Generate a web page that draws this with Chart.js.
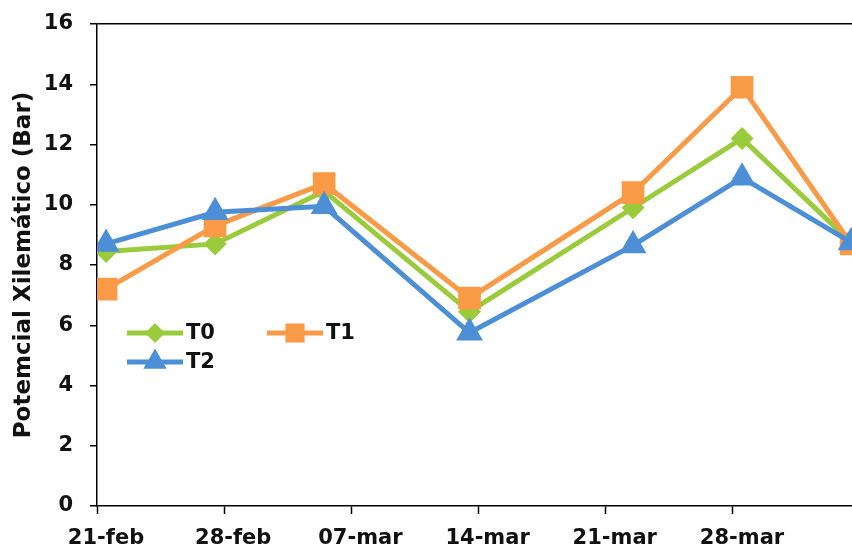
<!DOCTYPE html>
<html lang="es">

<head>
    <meta charset="UTF-8">
    <title>Potencial xilemático</title>
    <script src="https://cdn.jsdelivr.net/npm/chart.js@4"></script>
    <style>
        body {
            margin: 0;
            background-color: #ffffff;
        }

        .chart-box {
            width: 852px;
            height: 550px;
            position: relative;
        }
    </style>
</head>

<body>
    <div class="chart-box">
        <canvas id="potencialChart"></canvas>
    </div>

    <script>
        // dias despues del 21-feb en que se midio
        const dias = [0, 6, 12, 20, 29, 35, 41];
        const t0 = [8.45, 8.7, 10.45, 6.45, 9.9, 12.2, 8.75];
        const t1 = [7.2, 9.3, 10.7, 6.9, 10.4, 13.9, 8.7];
        const t2 = [8.7, 9.75, 9.95, 5.75, 8.65, 10.9, 8.75];

        // marcas del eje x cada 7 dias
        const marcasDias = [0, 7, 14, 21, 28, 35];
        const etiquetasX = ['21-feb', '28-feb', '07-mar', '14-mar', '21-mar', '28-mar'];
        const ticksY = [0, 2, 4, 6, 8, 10, 12, 14, 16];

        const fuente = 'DejaVu Sans';
        const diaMax = 41.55;

        // cada punto va al centro de su dia
        function serie(valores) {
            return valores.map((v, i) => ({ x: dias[i] + 0.5, y: v }));
        }

        // leyenda dentro del area del grafico
        const leyendaPlugin = {
            id: 'leyenda',
            afterDatasetsDraw(chart) {
                const ctx = chart.ctx;
                const items = [
                    { ds: 0, x: 127, y: 333 },
                    { ds: 1, x: 267, y: 333 },
                    { ds: 2, x: 127, y: 362 }
                ];
                ctx.save();
                items.forEach(it => {
                    const ds = chart.data.datasets[it.ds];
                    ctx.strokeStyle = ds.borderColor;
                    ctx.lineWidth = ds.borderWidth;
                    ctx.beginPath();
                    ctx.moveTo(it.x, it.y);
                    ctx.lineTo(it.x + 56, it.y);
                    ctx.stroke();
                    ctx.fillStyle = ds.pointBackgroundColor;
                    ctx.strokeStyle = ds.pointBorderColor;
                    Chart.helpers.drawPoint(ctx, {
                        pointStyle: ds.pointStyle,
                        radius: ds.pointRadius * 0.8,
                        rotation: 0,
                        borderWidth: 1
                    }, it.x + 28, it.y);
                    ctx.fillStyle = '#111111';
                    ctx.font = 'bold 21px "' + fuente + '"';
                    ctx.textBaseline = 'middle';
                    ctx.textAlign = 'left';
                    ctx.fillText(ds.label, it.x + 59, it.y + 1);
                });
                ctx.restore();
            }
        };

        const ctx = document.getElementById('potencialChart').getContext('2d');
        new Chart(ctx, {
            type: 'line',
            data: {
                datasets: [{
                    label: 'T0',
                    data: serie(t0),
                    borderColor: '#9acb3a',
                    backgroundColor: '#9acb3a',
                    pointBackgroundColor: '#9acb3a',
                    pointBorderColor: '#9acb3a',
                    pointStyle: 'rectRot',
                    pointRadius: 8,
                    borderWidth: 5,
                    order: 2
                }, {
                    label: 'T1',
                    data: serie(t1),
                    borderColor: '#f99a47',
                    backgroundColor: '#f99a47',
                    pointBackgroundColor: '#f99a47',
                    pointBorderColor: '#f99a47',
                    pointStyle: 'rect',
                    pointRadius: 12.5,
                    borderWidth: 5,
                    order: 1
                }, {
                    label: 'T2',
                    data: serie(t2),
                    borderColor: '#4d8fd6',
                    backgroundColor: '#4d8fd6',
                    pointBackgroundColor: '#4d8fd6',
                    pointBorderColor: '#4d8fd6',
                    pointStyle: 'triangle',
                    pointRadius: 10.5,
                    borderWidth: 5,
                    order: 0
                }]
            },
            options: {
                responsive: true,
                maintainAspectRatio: false,
                animation: false,
                layout: {
                    autoPadding: false,
                    padding: { top: 24, right: 0, bottom: 0, left: 0 }
                },
                plugins: {
                    legend: { display: false },
                    tooltip: { enabled: false }
                },
                scales: {
                    x: {
                        type: 'linear',
                        min: 0,
                        max: diaMax,
                        afterBuildTicks: function(scale) {
                            scale.ticks = marcasDias.map(v => ({ value: v }));
                        },
                        afterFit: function(scale) {
                            scale.height = 44;
                            scale.paddingLeft = 0;
                            scale.paddingRight = 0;
                        },
                        border: { color: '#000000', width: 1.5 },
                        grid: {
                            color: 'rgba(0,0,0,0)',
                            drawOnChartArea: false,
                            tickColor: '#000000',
                            tickLength: 8,
                            tickWidth: 1.5
                        },
                        ticks: {
                            autoSkip: false,
                            maxRotation: 0,
                            labelOffset: 9,
                            padding: 12,
                            color: '#111111',
                            font: { family: fuente, size: 21, weight: 'bold' },
                            callback: function(value) {
                                const i = marcasDias.indexOf(value);
                                return i >= 0 ? etiquetasX[i] : '';
                            }
                        }
                    },
                    y: {
                        min: 0,
                        max: 16,
                        afterBuildTicks: function(scale) {
                            scale.ticks = ticksY.map(v => ({ value: v }));
                        },
                        afterFit: function(scale) {
                            scale.width = 97;
                            scale.paddingTop = 0;
                            scale.paddingBottom = 0;
                        },
                        border: { color: '#000000', width: 1.5 },
                        grid: {
                            color: function(c) {
                                return c.tick && c.tick.value === 16 ? '#000000' : 'rgba(0,0,0,0)';
                            },
                            lineWidth: 1.5,
                            tickColor: '#000000',
                            tickLength: 7,
                            tickWidth: 1.5
                        },
                        ticks: {
                            padding: 17,
                            color: '#111111',
                            font: { family: fuente, size: 21, weight: 'bold' }
                        },
                        title: {
                            display: true,
                            text: 'Potemcial Xilemático (Bar)',
                            color: '#111111',
                            padding: { top: 10, bottom: 0 },
                            font: { family: fuente, size: 23, weight: 'bold' }
                        }
                    }
                }
            },
            plugins: [leyendaPlugin]
        });
    </script>
</body>

</html>
